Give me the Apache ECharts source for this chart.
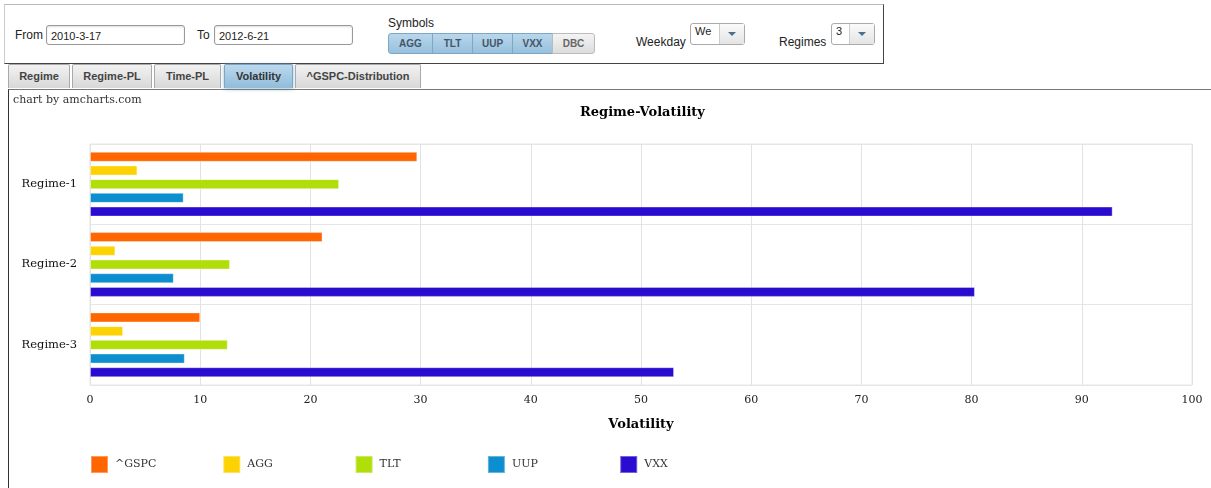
<!DOCTYPE html>
<html>
<head>
<meta charset="utf-8">
<script src="https://cdn.jsdelivr.net/npm/echarts@6/dist/echarts.min.js"></script>
<style>
body { margin: 0; background: #fff; font-family: "Liberation Sans", Arial, sans-serif; font-size: 12px; color: #222; }
#panel { position: absolute; left: 4px; top: 4px; width: 878px; height: 58px; border: 1px solid #444; border-top-color: #bbb; border-left-color: #ccc; }
.lbl { position: absolute; font-size: 12px; }
.inp { position: absolute; height: 20px; border: 1px solid #999; border-radius: 3px; font-size: 11px; line-height: 20px; padding-left: 4px; box-sizing: border-box; box-shadow: inset 0 1px 2px #ddd; }
.sym { position: absolute; top: 33px; height: 21px; box-sizing: border-box; border: 1px solid #7fa7c4; font-size: 10px; font-weight: bold; color: #456; text-align: center; line-height: 19px; background: linear-gradient(#b9d7ec, #97c0dd); }
.sym.off { background: linear-gradient(#f4f4f4, #dcdcdc); border-color: #bbb; color: #666; border-radius: 0 3px 3px 0; }
.sel { position: absolute; top: 23px; height: 22px; box-sizing: border-box; border: 1px solid #aaa; border-radius: 3px; background: #fff; font-size: 11px; padding: 1px 0 0 4px; }
.sel .arr { position: absolute; right: 0; top: 0; width: 24px; height: 20px; border-left: 1px solid #ccc; background: linear-gradient(#fafafa, #e4e4e4); }
.sel .arr:after { content: ""; position: absolute; left: 8px; top: 8px; border-left: 4px solid transparent; border-right: 4px solid transparent; border-top: 4px solid #4a6f8c; }
.tab { position: absolute; top: 64px; height: 24px; box-sizing: border-box; border: 1px solid #aaa; border-bottom: none; font-size: 11px; font-weight: bold; color: #444; text-align: center; line-height: 23px; background: linear-gradient(#f2f2f2, #d8d8d8); border-radius: 2px 2px 0 0; }
.tab.on { background: linear-gradient(#bcd8ec, #91bcdb); border-color: #7ea6c3; color: #333; box-shadow: 0 1px 4px #9cc3dd; }
#frame { position: absolute; left: 8px; top: 89px; width: 1203px; height: 399px; border-top: 1px solid #777; border-left: 1px solid #333; box-sizing: border-box; }
#chart { position: absolute; left: 9px; top: 91px; width: 1202px; height: 397px; }
</style>
</head>
<body>
<div id="panel"></div>
<div class="lbl" style="left:15px;top:28px">From</div>
<div class="inp" style="left:46px;top:25px;width:139px">2010-3-17</div>
<div class="lbl" style="left:197px;top:28px">To</div>
<div class="inp" style="left:214px;top:25px;width:139px">2012-6-21</div>
<div class="lbl" style="left:388px;top:16px">Symbols</div>
<div class="sym" style="left:388px;width:45px;border-radius:3px 0 0 3px">AGG</div>
<div class="sym" style="left:432px;width:41px">TLT</div>
<div class="sym" style="left:472px;width:41px">UUP</div>
<div class="sym" style="left:512px;width:41px">VXX</div>
<div class="sym off" style="left:552px;width:43px">DBC</div>
<div class="lbl" style="left:636px;top:35px">Weekday</div>
<div class="sel" style="left:690px;width:55px">We<span class="arr"></span></div>
<div class="lbl" style="left:779px;top:35px">Regimes</div>
<div class="sel" style="left:831px;width:44px">3<span class="arr"></span></div>
<div class="tab" style="left:8px;width:62px">Regime</div>
<div class="tab" style="left:72px;width:80px">Regime-PL</div>
<div class="tab" style="left:154px;width:67px">Time-PL</div>
<div class="tab on" style="left:224px;width:69px">Volatility</div>
<div class="tab" style="left:295px;width:126px">^GSPC-Distribution</div>
<div id="frame"></div>
<div id="chart"></div>
<script>
// regimes and symbols
var regimes = ['Regime-1', 'Regime-2', 'Regime-3'];
var symbols = ['^GSPC', 'AGG', 'TLT', 'UUP', 'VXX'];
var colors = ['#FF6600', '#FCD202', '#B0DE09', '#0D8ECF', '#2A0CD0'];

// volatility per symbol, one value per regime
var gspc = [29.7, 21.1, 10.0];
var agg = [4.3, 2.3, 3.0];
var tlt = [22.6, 12.7, 12.5];
var uup = [8.5, 7.6, 8.6];
var vxx = [92.8, 80.3, 53.0];
var values = [gspc, agg, tlt, uup, vxx];

var serif = 'DejaVu Serif';
var myChart = echarts.init(document.getElementById('chart'));

var series = [];
var legends = [];
for (var i = 0; i < symbols.length; i++) {
	series.push({
		name: symbols[i],
		type: 'bar',
		data: values[i],
		barWidth: 10,
		barGap: '37%',
		itemStyle: { color: colors[i], borderColor: 'rgba(255,255,255,0.35)', borderWidth: 1 }
	});
	// one legend per item so the spacing is even, like amcharts
	legends.push({
		data: [symbols[i]],
		left: 81 + i * 132.3, top: 364,
		padding: 0,
		itemWidth: 17, itemHeight: 17,
		icon: 'rect',
		textStyle: { fontFamily: serif, fontSize: 11, color: '#333', padding: [0, 0, 0, 2] }
	});
}

var option = {
	animation: false,
	color: colors,
	title: [{
		text: 'chart by amcharts.com',
		left: 4, top: 4, padding: 0,
		textStyle: { fontFamily: serif, fontSize: 11, fontWeight: 'normal', color: '#333' }
	}, {
		text: 'Regime-Volatility',
		left: 571, top: 15, padding: 0,
		textStyle: { fontFamily: serif, fontSize: 13, fontWeight: 'bold', color: '#000' }
	}],
	legend: legends,
	grid: {
		left: 81, right: 19, top: 53, bottom: 103,
		show: true, borderColor: '#e6e6e6', borderWidth: 1
	},
	xAxis: {
		type: 'value',
		min: 0, max: 100, interval: 10,
		name: 'Volatility',
		nameLocation: 'middle',
		nameGap: 33,
		nameTextStyle: { fontFamily: serif, fontSize: 13, fontWeight: 'bold', color: '#000' },
		axisLine: { show: false },
		axisTick: { show: false },
		axisLabel: { fontFamily: serif, fontSize: 11, color: '#222', margin: 10 },
		splitLine: { lineStyle: { color: '#e2e2e2' } }
	},
	yAxis: {
		type: 'category',
		data: regimes,
		inverse: true,
		axisLine: { show: false },
		axisTick: { show: false },
		axisLabel: { fontFamily: serif, fontSize: 11.5, color: '#111', margin: 13 },
		splitLine: { show: true, lineStyle: { color: '#e6e6e6' } }
	},
	series: series
};

myChart.setOption(option);
</script>
</body>
</html>
